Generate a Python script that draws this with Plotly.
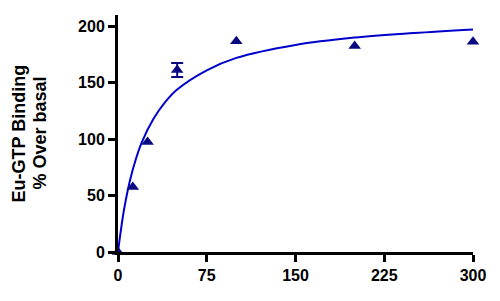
import plotly.graph_objects as go

# Measured points (concentration vs % over basal)
conc = [0, 12.5, 25, 50, 100, 200, 300]
binding = [0, 57.5, 97.5, 161.3, 186.8, 182.6, 186.2]

# Only the 50 point has a visible error bar
err_x = [50]
err_y = [161.3]
err_size = [6.2]

# Fitted curve
curve_x = [0, 2, 5, 10, 15, 20, 30, 40, 50, 75, 100, 150, 200, 250, 300]
curve_y = [0, 16, 37, 63, 82, 97, 118, 133, 144, 161, 172, 183.5, 190, 194, 197.2]

x_ticks = [0, 75, 150, 225, 300]
y_ticks = [0, 50, 100, 150, 200]

navy = '#0A0A80'

fig = go.Figure()

fig.add_trace(go.Scatter(x=curve_x, y=curve_y, mode='lines',
                         line=dict(color='#0000CC', width=2, shape='spline'),
                         hoverinfo='skip', showlegend=False))

fig.add_trace(go.Scatter(x=err_x, y=err_y, mode='markers',
                         marker=dict(size=0.1, color=navy, opacity=0),
                         error_y=dict(type='data', array=err_size, visible=True,
                                      color=navy, thickness=2, width=6),
                         showlegend=False, cliponaxis=False, hoverinfo='skip'))

fig.add_trace(go.Scatter(x=conc, y=binding, mode='markers',
                         marker=dict(symbol='triangle-up', size=11, color=navy),
                         showlegend=False, cliponaxis=False))

tick_font = dict(family='Arial, Liberation Sans', size=16, color='black', weight='bold')
title_font = dict(family='Arial, Liberation Sans', size=18, color='black', weight='bold')

# page body has an 8px margin, so margins are trimmed to compensate
fig.update_layout(
    width=500, height=301,
    margin=dict(l=110, r=35, t=7, b=57),
    plot_bgcolor='white', paper_bgcolor='white',
    xaxis=dict(range=[0, 300], tickvals=x_ticks, showgrid=False, zeroline=False,
               showline=True, linecolor='black', linewidth=3, automargin=False,
               ticks='outside', ticklen=7, tickwidth=3, tickcolor='black',
               tickfont=tick_font),
    yaxis=dict(range=[0, 210], tickvals=y_ticks, showgrid=False, zeroline=False,
               showline=True, linecolor='black', linewidth=3, automargin=False,
               ticks='outside', ticklen=7, tickwidth=3, tickcolor='black',
               tickfont=tick_font),
)

# Two-line y-axis title, placed as rotated annotations
for text, px in [('Eu-GTP Binding', 18), ('% Over basal', 39)]:
    fig.add_annotation(text=text, textangle=-90, font=title_font,
                       xref='paper', yref='paper', x=0, y=0.5,
                       xanchor='center', yanchor='middle',
                       xshift=px - 118, showarrow=False)

fig.write_html('out.html')
